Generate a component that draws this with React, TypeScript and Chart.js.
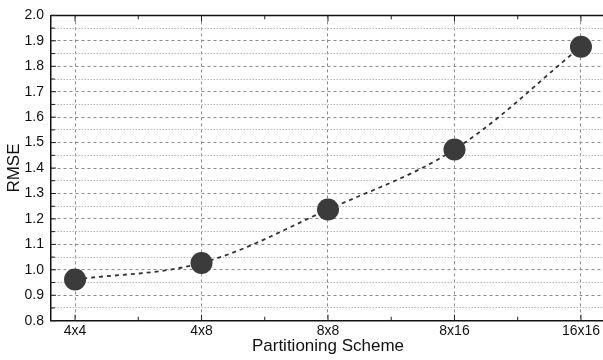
import React, { useEffect, useRef } from "react";
import { Chart, registerables } from "chart.js";

Chart.register(...registerables);

const categories = ["4x4", "4x8", "8x8", "8x16", "16x16"];
const rmse = [0.962, 1.027, 1.237, 1.473, 1.877];
const yMin = 0.8;
const yMax = 2.0;
const yMinorStep = 0.05;
const xTitle = "Partitioning Scheme";
const yTitle = "RMSE";

const FONT = "'Liberation Sans', Arial, sans-serif";

const isMajorY = (v: number) => Math.abs(Math.round(v * 10) - v * 10) < 1e-6;
const isMajorX = (v: number) => Math.abs(Math.round(v) - v) < 1e-6;

const frame = {
  id: "frame",
  afterDraw(chart: any) {
    const { ctx, chartArea: a, scales } = chart;
    ctx.save();
    ctx.strokeStyle = "#111";
    ctx.lineWidth = 1.5;
    ctx.setLineDash([]);
    ctx.beginPath();
    ctx.moveTo(a.left, a.top);
    ctx.lineTo(a.right, a.top);
    ctx.stroke();
    ctx.lineWidth = 1;
    ctx.strokeStyle = "#222";
    scales.y.ticks.forEach((t: any) => {
      const y = scales.y.getPixelForValue(t.value);
      const len = isMajorY(t.value) ? 5 : 4;
      ctx.beginPath();
      ctx.moveTo(a.left, y);
      ctx.lineTo(a.left + len, y);
      ctx.stroke();
    });
    scales.x.ticks.forEach((t: any) => {
      const x = scales.x.getPixelForValue(t.value);
      const len = isMajorX(t.value) ? 6 : 4;
      ctx.beginPath();
      ctx.moveTo(x, a.bottom);
      ctx.lineTo(x, a.bottom - len);
      ctx.moveTo(x, a.top);
      ctx.lineTo(x, a.top + len);
      ctx.stroke();
    });
    ctx.restore();
  },
};

export default function App() {
  const ref = useRef<HTMLCanvasElement>(null);
  useEffect(() => {
    document.body.style.margin = "0";
    const chart = new Chart(ref.current!, {
      type: "line",
      data: {
        datasets: [
          {
            data: rmse.map((v, i) => ({ x: i, y: v })),
            borderColor: "#333",
            borderWidth: 1.8,
            borderDash: [4, 4],
            tension: 0.35,
            pointRadius: 11,
            pointHoverRadius: 11,
            pointBackgroundColor: "#3b3b3b",
            pointBorderWidth: 0,
            fill: false,
          },
        ],
      },
      options: {
        animation: false,
        responsive: false,
        events: [],
        layout: { padding: { top: 14.7, right: 15, left: 0, bottom: 0 } },
        plugins: { legend: { display: false }, tooltip: { enabled: false } },
        scales: {
          x: {
            type: "linear",
            min: -0.19,
            max: categories.length - 1 + 0.19,
            afterBuildTicks: (scale: any) => {
              const t: any[] = [];
              for (let i = 0; i < categories.length; i++) {
                t.push({ value: i });
                if (i < categories.length - 1) t.push({ value: i + 0.5 });
              }
              scale.ticks = t;
            },
            afterFit: (scale: any) => {
              scale.height = 39.3;
              scale.paddingRight = 0;
              scale.paddingLeft = 0;
            },
            ticks: {
              autoSkip: false,
              maxRotation: 0,
              padding: 2,
              color: "#111",
              font: { family: FONT, size: 14 },
              callback: (v: any) => (isMajorX(Number(v)) ? categories[Math.round(Number(v))] : ""),
            },
            grid: {
              drawTicks: false,
              color: (c: any) => (c.tick && isMajorX(c.tick.value) ? "#8c8c8c" : "rgba(0,0,0,0)"),
              lineWidth: 1,
            },
            border: {
              display: true,
              color: "#111",
              width: 1.5,
              dash: (c: any) => (c.tick ? [3, 3] : []),
            },
            title: {
              display: true,
              text: xTitle,
              color: "#111",
              font: { family: FONT, size: 17 },
              padding: { top: 0, bottom: 3 },
            },
          },
          y: {
            type: "linear",
            min: yMin,
            max: yMax,
            afterBuildTicks: (scale: any) => {
              const t: any[] = [];
              const n = Math.round((yMax - yMin) / yMinorStep);
              for (let i = 0; i <= n; i++) t.push({ value: +(yMin + i * yMinorStep).toFixed(2) });
              scale.ticks = t;
            },
            afterFit: (scale: any) => {
              scale.width = 51;
            },
            ticks: {
              autoSkip: false,
              padding: 7,
              color: "#111",
              font: { family: FONT, size: 14 },
              callback: (v: any) => (isMajorY(Number(v)) ? Number(v).toFixed(1) : ""),
            },
            grid: {
              drawTicks: false,
              color: (c: any) => (c.tick && isMajorY(c.tick.value) ? "#8c8c8c" : "#b8b8b8"),
              lineWidth: 1,
            },
            border: {
              display: true,
              color: "#111",
              width: 1.5,
              dash: (c: any) => (c.tick ? (isMajorY(c.tick.value) ? [3, 3] : [1.5, 1.5]) : []),
            },
            title: {
              display: true,
              text: yTitle,
              color: "#111",
              font: { family: FONT, size: 17 },
              padding: { top: 4, bottom: 0 },
            },
          },
        },
      },
      plugins: [frame],
    });
    return () => chart.destroy();
  }, []);
  return (
    <div style={{ width: 603, height: 360, overflow: "hidden", position: "relative", background: "#fff" }}>
      <canvas ref={ref} width={620} height={360} style={{ display: "block" }} />
    </div>
  );
}
